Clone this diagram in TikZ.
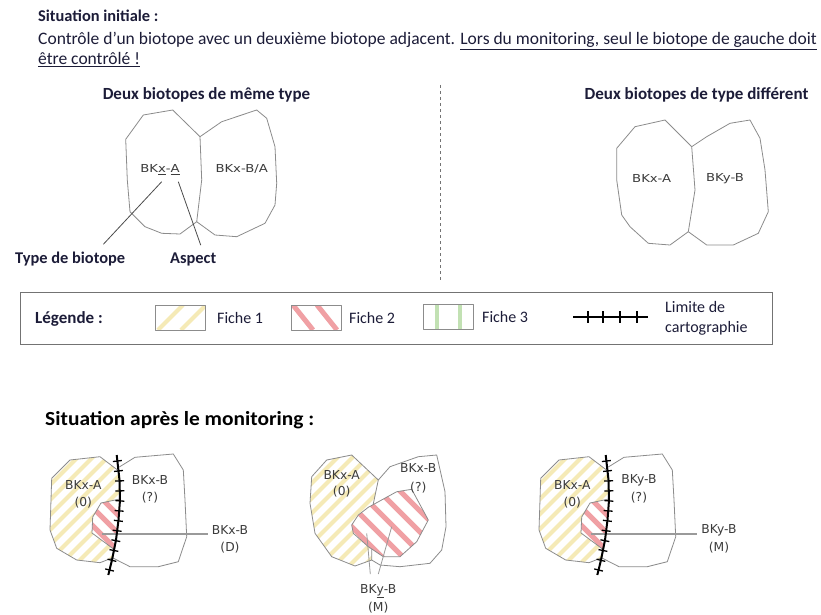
\documentclass[tikz,border=0pt]{standalone}
\usepackage{fontspec}
\setmainfont{Carlito}
\newfontfamily\lblfont{DejaVu Sans}
\newfontfamily\lblwide{DejaVu Sans}[FakeStretch=1.2]
\newfontfamily\titlewide{Carlito}[FakeStretch=1.07]
\usetikzlibrary{decorations.markings,calc}
\definecolor{polyline}{HTML}{8C8C8C}
\definecolor{ystr}{HTML}{F5EAB6}
\definecolor{pstr}{HTML}{F0A0A4}
\definecolor{gstr}{HTML}{C2E1B3}
\definecolor{txt}{HTML}{1C1C38}
\definecolor{lbltxt}{HTML}{3C3C3C}
\definecolor{leadgray}{HTML}{9A9A9A}
\tikzset{
 poly/.style={draw=polyline, line width=0.8pt, line join=round},
 ys/.style={draw=ystr, line width=4pt},
 ps/.style={draw=pstr, line width=5pt},
 gs/.style={draw=gstr, line width=4pt},
 body/.style={font=\fontsize{16}{19}\selectfont, text=txt, inner sep=0pt, anchor=base west},
 bodyl/.style={body, font=\fontsize{17.5}{20}\selectfont},
 bodyb/.style={body, font=\bfseries\fontsize{16.4}{19}\selectfont},
 headc/.style={font=\bfseries\fontsize{17}{20}\selectfont, text=txt, inner sep=0pt},
 lbltop/.style={font=\lblwide\fontsize{11}{13}\selectfont, text=lbltxt, inner sep=0pt},
 lblsc/.style={font=\lblfont\fontsize{12.3}{14}\selectfont, text=lbltxt, inner sep=0pt},
 lead/.style={draw=leadgray, line width=1.1pt},
 leadtop/.style={draw=black!70, line width=0.8pt},
 limitline/.style={draw=black, line width=2pt, postaction={decorate, decoration={markings,
   mark=between positions 0.05 and 0.99 step 10pt with {\draw[line width=1.3pt] (0,-4.5pt) -- (0,4.5pt);}}}},
}
\newcommand\limscene[5]{%
\begin{scope}[xshift=#5]
 \begin{scope}
  \clip (117.5,470) -- (100,456.7) -- (70,460) -- (51.7,478.3) -- (50,530) -- (56.7,548.3) -- (76.7,560) -- (100,562.7) -- (112,558) -- (116,540) -- (118.5,520) -- (120,500) -- (119.5,480) -- cycle;
  \foreach \k in {-14,...,14} \draw[ys] ({85+\k*15-90},{510+90}) -- ++(180,-180);
 \end{scope}
 \begin{scope}
  \clip (119.8,499) -- (101,503) -- (92.7,517) -- (92,533) -- (113.5,549) -- (116,540) -- (118.5,520) -- cycle;
  \fill[white] (80,490) rectangle (125,555);
  \foreach \k in {-8,...,8} \draw[ps] ({105+\k*18-60},{520-60}) -- ++(120,120);
 \end{scope}
 \draw[poly] (117.5,470) -- (100,456.7) -- (70,460) -- (51.7,478.3) -- (50,530) -- (56.7,548.3) -- (76.7,560) -- (100,562.7) -- (112,558);
 \draw[poly] (119.8,499) -- (101,503) -- (92.7,517) -- (92,533) -- (113.5,549);
 \draw[poly] (119.3,467) -- (135,457.3) -- (173.3,454) -- (183.3,470) -- (185,500) -- (186.7,536.7) -- (178.3,561.7) -- (158.3,566.7) -- (130,566.7) -- (113,558);
 \coordinate (#1s) at (101.7,534);
 \node[lblsc] (#1L1) at (230,530) {#3};
 \node[lblsc] (#1L2) at (230,548) {#4};
 \draw[lead, shorten >=4pt] (#1s) -- (#1s -| #1L1.west);
 \draw[limitline] (116.7,455) -- (119.5,480) -- (120,500) -- (118.5,520) -- (116,540) -- (112,560) -- (108.3,575);
 \node[lblsc] (#1a) at (83.3,485) {BKx-A};
 \node[lblsc] (#1b) at (83.3,503) {(0)};
 \node[lblsc] (#1c) at (150,480) {#2};
 \node[lblsc] (#1d) at (150,498) {(?)};
\end{scope}}
\begin{document}
\begin{tikzpicture}[x=1pt,y=-1pt]
\useasboundingbox (0,0) rectangle (821,615);
\fill[white] (0,0) rectangle (821,615);
% header
\node[bodyb] (t1) at (38,22) {Situation initiale :};
\node[bodyl] (t2) at (38,45) {Contrôle d’un biotope avec un deuxième biotope adjacent. \underline{Lors du monitoring, seul le biotope de gauche doit}};
\node[bodyl] (t3) at (38,65) {\underline{être contrôlé !}};
\node[headc] (h1) at (206.5,95) {Deux biotopes de même type};
\node[headc] (h2) at (696.5,95) {Deux biotopes de type différent};
\draw[draw=black!55, line width=0.8pt, dash pattern=on 3pt off 3pt] (440,85) -- (440,280);
% top left pair
\draw[poly] (125.7,139.3) -- (143.3,115) -- (172.7,110) -- (200,136.7) -- (201.7,180) -- (196.7,221.7) -- (180,234) -- (161.7,233.3) -- (145,226.7) -- (130,211.7) -- (127.3,180) -- cycle;
\draw[poly] (200,136.7) -- (221.7,121.7) -- (256.7,110) -- (266.7,118.3) -- (275,146.7) -- (276.7,183.3) -- (275,205) -- (265,223.3) -- (236.7,236.7) -- (215,235) -- (196.7,221.7);
\node[lbltop] (la) at (160,169.3) {BK\underline{x}-\underline{A}};
\node[lbltop] (lb) at (241.7,169.3) {BKx-B/A};
\node[bodyb] (ltype) at (15,263) {Type de biotope};
\node[bodyb] (lasp) at (170,263) {Aspect};
\coordinate (ca1) at (161.7,181.7);
\coordinate (ca2) at (178.3,181.7);
\draw[leadtop] (ca1) -- ($(ltype.north east)+(-22,-7)$);
\draw[leadtop] (ca2) -- ($(lasp.north)+(7.5,-7)$);
% top right pair
\draw[poly] (616.7,148.3) -- (635,126.7) -- (665,120) -- (691.7,146.7) -- (695,190) -- (688.3,231.7) -- (670,245) -- (648.3,243.3) -- (630,226.7) -- (621.7,215) -- (616.7,180) -- cycle;
\draw[poly] (691.7,146.7) -- (706.7,136.7) -- (730,123.3) -- (750,120) -- (760,138.3) -- (765,170) -- (768.3,211.7) -- (758.3,233.3) -- (733.3,245) -- (706.7,245) -- (688.3,231.7);
\node[lbltop] (ra) at (651.7,178.3) {BKx-A};
\node[lbltop] (rb) at (725,178.3) {BKy-B};
% legend
\draw[draw=black!55, line width=1pt] (20,292) rectangle (772,344);
\node[bodyb, font=\bfseries\fontsize{17}{19}\selectfont] (leg) at (35,323) {Légende :};
\begin{scope}
 \clip (155,305) rectangle (205,330);
 \draw[ys] (158,330) -- (183,305);
 \draw[ys] (181,330) -- (206,305);
\end{scope}
\draw[poly] (155,305) rectangle (205,330);
\node[body] (f1) at (217,323) {Fiche 1};
\begin{scope}
 \clip (291,305) rectangle (341,330);
 \draw[ps] (293,305) -- (313,330);
 \draw[ps] (317,305) -- (337,330);
\end{scope}
\draw[poly] (291,305) rectangle (341,330);
\node[body] (f2) at (349,323) {Fiche 2};
\draw[gs] (437,304) -- (437,329);
\draw[gs] (460,304) -- (460,329);
\draw[poly] (423,304) rectangle (473,329);
\node[body] (f3) at (482,322) {Fiche 3};
\coordinate (lm1) at (573,317);
\coordinate (lm2) at (648,317);
\draw[black, line width=2.8pt] (lm1) -- (lm2);
\foreach \xx in {588,603,620,637} \draw[black, line width=1.8pt] (\xx,311) -- (\xx,323);
\node[body] (lim1) at (665,312) {Limite de};
\node[body] (lim2) at (665,332) {cartographie};
% after monitoring
\node[font=\titlewide\bfseries\fontsize{20}{23}\selectfont, text=black, inner sep=0pt, anchor=base west] (t4) at (45,425) {Situation après le monitoring :};
\limscene{sA}{BKx-B}{BKx-B}{(D)}{0pt}
\limscene{sC}{BKy-B}{BKy-B}{(M)}{489pt}
% scene 2
\begin{scope}
 \clip (311.7,476.7) -- (326.7,460) -- (351.7,455) -- (378.3,480) -- (372,510) -- (371.7,560) -- (355,566) -- (331.7,556.7) -- (315,533.3) -- (310,503.3) -- cycle;
 \foreach \k in {-14,...,14} \draw[ys] ({345+\k*15-90},{510+90}) -- ++(180,-180);
\end{scope}
\draw[poly] (311.7,476.7) -- (326.7,460) -- (351.7,455) -- (378.3,480) -- (372,510) -- (371.7,560) -- (355,566) -- (331.7,556.7) -- (315,533.3) -- (310,503.3) -- cycle;
\draw[poly] (378.3,480) -- (390,466.7) -- (418.3,456.7) -- (436.7,455) -- (445,491.7) -- (446,526.7) -- (441.7,550) -- (430,563.3) -- (400,566.7) -- (380,565) -- (371.7,560);
\begin{scope}
 \clip (368.3,507.3) -- (396.7,491.7) -- (411.7,489.3) -- (428.3,520) -- (416.7,541.7) -- (400,556.7) -- (383.3,556.7) -- (368.3,546.7) -- (353.3,533.3) -- (351.7,525) -- (358.3,515) -- cycle;
 \fill[white] (340,480) rectangle (440,570);
 \foreach \k in {-10,...,10} \draw[ps] ({390+\k*21-80},{523-80}) -- ++(160,160);
\end{scope}
\draw[poly] (368.3,507.3) -- (396.7,491.7) -- (411.7,489.3) -- (428.3,520) -- (416.7,541.7) -- (400,556.7) -- (383.3,556.7) -- (368.3,546.7) -- (353.3,533.3) -- (351.7,525) -- (358.3,515) -- cycle;
\node[lblsc] (s2a) at (341.7,475) {BKx-A};
\node[lblsc] (s2b) at (341.7,492) {(0)};
\node[lblsc] (s2c) at (418.3,468.3) {BKx-B};
\node[lblsc] (s2d) at (418.3,488) {(?)};
\node[lblsc] (s2e) at (378.3,591) {BK\underline{y}-B};
\node[lblsc] (s2f) at (378.3,608) {(M)};
\coordinate (s2s1) at (366.7,533.3);
\coordinate (s2s2) at (391.7,526.7);
\draw[lead, line width=0.8pt] (s2s1) -- ($(s2e.north)+(-8,-10)$);
\draw[lead, line width=0.8pt] (s2s2) -- ($(s2e.north)+(0,-10)$);
\end{tikzpicture}
\end{document}
